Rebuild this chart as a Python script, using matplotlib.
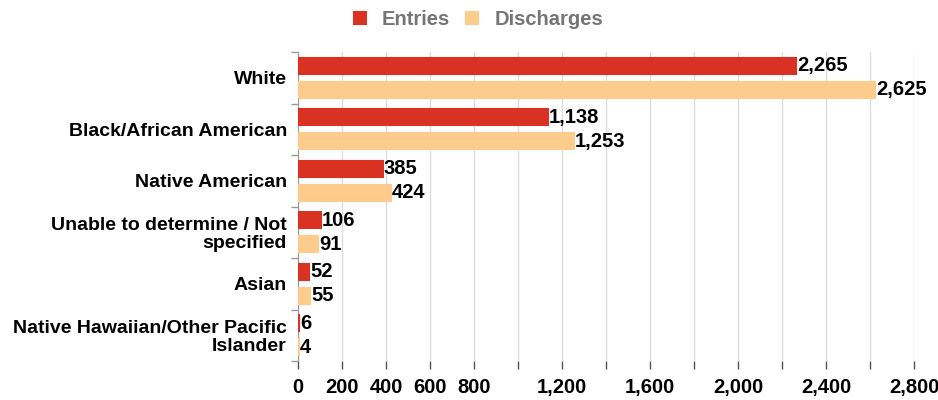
import numpy as np
from matplotlib import pyplot as plt
from matplotlib.ticker import FixedLocator

categories = ["White", "Black/African American", "Native American",
              "Unable to determine / Not\nspecified", "Asian",
              "Native Hawaiian/Other Pacific\nIslander"]
entries = [2265, 1138, 385, 106, 52, 6]
discharges = [2625, 1253, 424, 91, 55, 4]
x_ticks = list(range(0, 2801, 200))
x_labels_shown = [0, 200, 400, 600, 800, 1200, 1600, 2000, 2400, 2800]


def main():
    plt.rcParams['font.family'] = ['Liberation Sans', 'DejaVu Sans']
    plt.rcParams['font.weight'] = 'bold'
    fs = 14.5

    fig = plt.figure(figsize=(9.38, 4), dpi=100)
    ax = fig.add_axes([0.3177, 0.0975, 0.6567, 0.7725])

    y = np.arange(len(categories))
    h = 0.31
    off = 0.235
    b1 = ax.barh(y - off, entries, height=h, color='#D93122', edgecolor='#D93122',
                 linewidth=1.5, label='Entries', zorder=3)
    b2 = ax.barh(y + off, discharges, height=h, color='#FDCB8B', edgecolor='#FDCB8B',
                 linewidth=1.5, label='Discharges', zorder=3)

    for bars, vals in ((b1, entries), (b2, discharges)):
        for bar, v in zip(bars, vals):
            ax.text(bar.get_width() + 4, bar.get_y() + bar.get_height() / 2, f"{v:,}",
                    va='center', ha='left', fontsize=fs, fontweight='bold', color='black')

    ax.set_ylim(len(categories) - 0.5, -0.5)
    ax.set_xlim(0, 2800)

    ax.set_yticks(y)
    ax.set_yticklabels(categories, ha='right', fontsize=14, fontweight='bold',
                       linespacing=1.05)
    ax.yaxis.set_minor_locator(FixedLocator(np.arange(-0.5, len(categories), 1)))
    ax.tick_params(axis='y', which='major', length=0, pad=8)
    ax.tick_params(axis='y', which='minor', length=5, color='#999999', width=1)

    ax.xaxis.set_major_locator(FixedLocator(x_ticks))
    ax.set_xticklabels([f"{t:,}" if t in x_labels_shown else "" for t in x_ticks],
                       fontsize=fs)
    ax.tick_params(axis='x', which='major', length=6, color='#555555', width=1, pad=6)

    ax.grid(axis='x', color='#DDDDDD', linewidth=1)
    ax.set_axisbelow(True)
    for s in ('top', 'right', 'bottom'):
        ax.spines[s].set_visible(False)
    ax.spines['left'].set_color('#999999')

    leg = fig.legend(handles=[b1, b2], loc='upper center', bbox_to_anchor=(0.51, 1.02),
                     ncol=2, frameon=False, handlelength=0.6, handleheight=0.6,
                     handletextpad=0.8, columnspacing=0.8, fontsize=fs)
    for t in leg.get_texts():
        t.set_color('#757575')

    fig.savefig('out.png', dpi=100)


if __name__ == "__main__":
    main()
